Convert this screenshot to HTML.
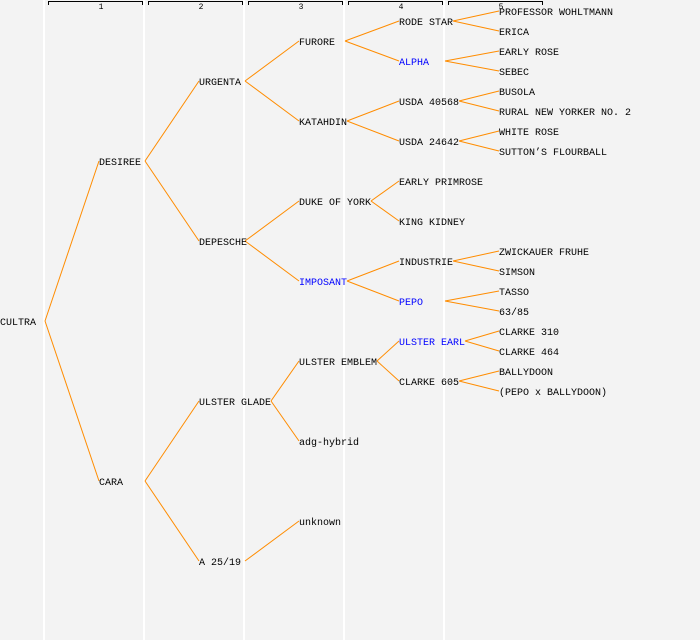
<!DOCTYPE html>
<html><head><meta charset="utf-8"><style>
html,body{margin:0;padding:0;background:#f3f3f3;}
svg{display:block;}
text{font-family:"Liberation Mono","DejaVu Sans Mono",monospace;font-size:10px;fill:#000;}
</style></head><body>
<svg id="s" width="700" height="640" xmlns="http://www.w3.org/2000/svg">
<rect width="700" height="640" fill="#f3f3f3"/>
<g stroke="#fff" stroke-width="2">
<line x1="44" y1="0" x2="44" y2="640"/><line x1="144" y1="0" x2="144" y2="640"/>
<line x1="244" y1="0" x2="244" y2="640"/><line x1="344" y1="0" x2="344" y2="640"/>
<line x1="444" y1="0" x2="444" y2="640"/>
</g>
<g stroke="#000" stroke-width="1" fill="none">
<path d="M48.5 5V1.5H142.5V5"/><path d="M148.5 5V1.5H242.5V5"/><path d="M248.5 5V1.5H342.5V5"/>
<path d="M348.5 5V1.5H442.5V5"/><path d="M448.5 5V1.5H542.5V5"/>
</g>
<g style="font-size:8px" text-anchor="middle">
<text x="101" y="9" style="font-size:8px">1</text><text x="201" y="9" style="font-size:8px">2</text>
<text x="301" y="9" style="font-size:8px">3</text><text x="401" y="9" style="font-size:8px">4</text>
<text x="501" y="9" style="font-size:8px">5</text>
</g>
<g id="edges" stroke="#ff8c00" stroke-width="1" fill="none">
<polyline points="45,321 99,161"/><polyline points="45,321 99,481"/>
<polyline points="145,161 199,81"/><polyline points="145,161 199,241"/>
<polyline points="145,481 199,401"/><polyline points="145,481 199,561"/>
<polyline points="245,81 299,41"/><polyline points="245,81 299,121"/>
<polyline points="245,241 299,201"/><polyline points="245,241 299,281"/>
<polyline points="271,401 299,361"/><polyline points="271,401 299,441"/>
<polyline points="245,561 299,521"/>
<polyline points="345,41 399,21"/><polyline points="345,41 399,61"/>
<polyline points="347,121 399,101"/><polyline points="347,121 399,141"/>
<polyline points="371,201 399,181"/><polyline points="371,201 399,221"/>
<polyline points="347,281 399,261"/><polyline points="347,281 399,301"/>
<polyline points="377,361 399,341"/><polyline points="377,361 399,381"/>
<polyline points="453,21 499,11"/><polyline points="453,21 499,31"/>
<polyline points="445,61 499,51"/><polyline points="445,61 499,71"/>
<polyline points="459,101 499,91"/><polyline points="459,101 499,111"/>
<polyline points="459,141 499,131"/><polyline points="459,141 499,151"/>
<polyline points="453,261 499,251"/><polyline points="453,261 499,271"/>
<polyline points="445,301 499,291"/><polyline points="445,301 499,311"/>
<polyline points="465,341 499,331"/><polyline points="465,341 499,351"/>
<polyline points="459,381 499,371"/><polyline points="459,381 499,391"/>
</g>
<g>
<text x="0" y="325">CULTRA</text>
<text x="99" y="165">DESIREE</text><text x="99" y="485">CARA</text>
<text x="199" y="85">URGENTA</text><text x="199" y="245">DEPESCHE</text>
<text x="199" y="405">ULSTER GLADE</text><text x="199" y="565">A 25/19</text>
<text x="299" y="45">FURORE</text><text x="299" y="125">KATAHDIN</text>
<text x="299" y="205">DUKE OF YORK</text><text x="299" y="285" style="fill:#0000ff">IMPOSANT</text>
<text x="299" y="365">ULSTER EMBLEM</text><text x="299" y="445">adg-hybrid</text>
<text x="299" y="525">unknown</text>
<text x="399" y="25">RODE STAR</text><text x="399" y="65" style="fill:#0000ff">ALPHA</text>
<text x="399" y="105">USDA 40568</text><text x="399" y="145">USDA 24642</text>
<text x="399" y="185">EARLY PRIMROSE</text><text x="399" y="225">KING KIDNEY</text>
<text x="399" y="265">INDUSTRIE</text><text x="399" y="305" style="fill:#0000ff">PEPO</text>
<text x="399" y="345" style="fill:#0000ff">ULSTER EARL</text><text x="399" y="385">CLARKE 605</text>
<text x="499" y="15">PROFESSOR WOHLTMANN</text><text x="499" y="35">ERICA</text>
<text x="499" y="55">EARLY ROSE</text><text x="499" y="75">SEBEC</text>
<text x="499" y="95">BUSOLA</text><text x="499" y="115">RURAL NEW YORKER NO. 2</text>
<text x="499" y="135">WHITE ROSE</text><text x="499" y="155">SUTTON’S FLOURBALL</text>
<text x="499" y="255">ZWICKAUER FRUHE</text><text x="499" y="275">SIMSON</text>
<text x="499" y="295">TASSO</text><text x="499" y="315">63/85</text>
<text x="499" y="335">CLARKE 310</text><text x="499" y="355">CLARKE 464</text>
<text x="499" y="375">BALLYDOON</text><text x="499" y="395">(PEPO x BALLYDOON)</text>
</g>
</svg>
</body></html>
